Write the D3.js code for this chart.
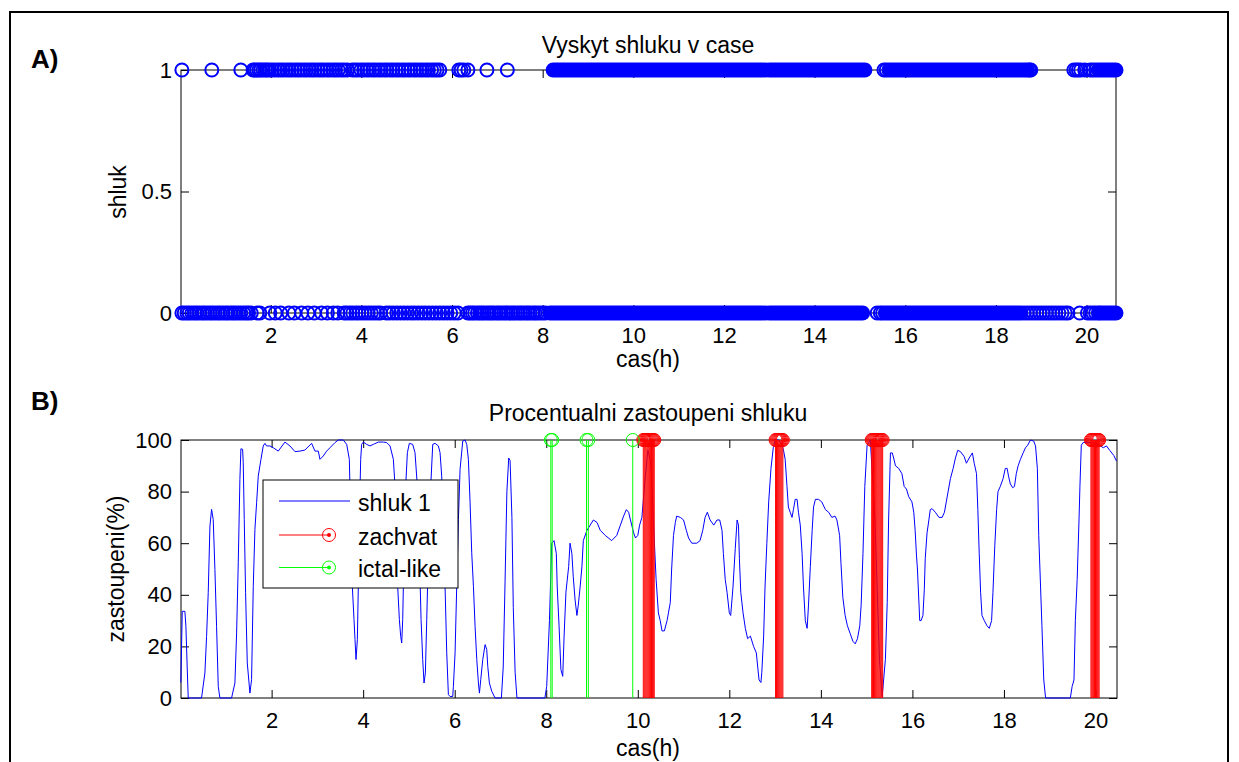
<!DOCTYPE html>
<html><head><meta charset="utf-8">
<script src="https://cdn.jsdelivr.net/npm/d3@7"></script>
<style>
body{margin:0;background:#fff}
svg{display:block}
text{font-family:"Liberation Sans",Arial,Helvetica,sans-serif;fill:#000}
</style>
</head><body>
<svg id="chart" width="1239" height="762"></svg>
<script>
// ---------- DATA ----------
const xTicks = [2, 4, 6, 8, 10, 12, 14, 16, 18, 20];
const yTicksA = [0, 0.5, 1];
const yTickLabelsA = ["0", "0.5", "1"];
const yTicksB = [0, 20, 40, 60, 80, 100];

// Panel A: isolated occurrences (hours) of cluster value 1 and 0
const shluk1Times = [0.04, 0.70, 1.34, 1.61, 1.65, 1.69, 1.74, 1.78, 1.83, 1.88, 1.92, 1.97, 2.03, 2.09, 2.16, 2.22, 2.28, 2.35, 2.41, 2.47, 2.54, 2.60, 2.66, 2.73, 2.79, 2.86, 2.92, 2.98, 3.05, 3.11, 3.17, 3.24, 3.30, 3.37, 3.43, 3.49, 3.56, 3.62, 3.69, 3.80, 3.86, 3.92, 3.99, 4.05, 4.12, 4.18, 4.25, 4.31, 4.38, 4.44, 4.51, 4.57, 4.64, 4.70, 4.77, 4.83, 4.90, 4.96, 5.03, 5.09, 5.16, 5.22, 5.29, 5.35, 5.42, 5.48, 5.55, 5.61, 5.67, 5.73, 6.15, 6.20, 6.26, 6.35, 6.77, 7.22, 12.92, 15.53, 15.58, 18.74, 18.77, 19.72, 19.77, 19.82, 19.87, 19.96, 20.08, 20.14, 20.20];
// Panel A: continuous dense runs of occurrences [start, end] (hours)
const shluk1Runs = [[8.23, 12.85], [13.00, 15.11], [15.64, 18.70], [20.26, 20.65]];
const shluk0Times = [0.04, 0.09, 0.15, 0.20, 0.26, 0.32, 0.37, 0.43, 0.49, 0.54, 0.60, 0.66, 0.71, 0.77, 0.83, 0.88, 0.94, 1.00, 1.05, 1.11, 1.17, 1.22, 1.28, 1.34, 1.40, 1.46, 1.51, 1.57, 1.70, 1.76,
  1.98, 2.10, 2.22, 2.40, 2.52, 2.68, 2.82, 2.96, 3.12, 3.25, 3.38, 3.48,
  3.62, 3.68, 3.75, 3.81, 3.88, 3.94, 4.01, 4.08, 4.15, 4.22, 4.29, 4.36, 4.42,
  4.55, 4.62, 4.70, 4.78, 4.86, 4.94, 5.02, 5.10, 5.17, 5.25, 5.33, 5.41, 5.49, 5.57, 5.65, 5.73, 5.81, 5.89, 5.97, 6.05, 6.13,
  6.35, 6.40, 6.45, 6.50, 6.56, 6.61, 6.66, 6.71, 6.77, 6.82, 6.87, 6.92, 6.98, 7.03, 7.08, 7.14, 7.19, 7.24, 7.30, 7.35, 7.40, 7.46, 7.51, 7.56, 7.62, 7.67, 7.72, 7.78, 7.83, 7.88, 7.94, 8.00, 8.06,
  12.92, 15.38, 15.45, 15.50, 18.62, 18.69, 18.76, 18.83, 18.90, 18.97, 19.04, 19.11, 19.18, 19.25, 19.32, 19.39, 19.46, 19.53, 19.59, 19.85, 20.02, 20.08, 20.14, 20.20, 20.26];
const shluk0Runs = [[8.16, 12.85], [13.00, 15.06], [15.56, 18.55], [20.30, 20.65]];

// Panel B: percentage of cluster 1 over time
const pctTime = [0.017, 0.047, 0.105, 0.127, 0.156, 0.178, 0.469, 0.542, 0.579, 0.615, 0.652, 0.688, 0.724, 0.761, 0.797, 0.834, 0.870, 1.125, 1.198, 1.235, 1.271, 1.307, 1.329, 1.366, 1.380, 1.402, 1.431, 1.468, 1.526, 1.562, 1.599, 1.635, 1.672, 1.708, 1.767, 1.817, 1.854, 1.890, 1.963, 2.036, 2.145, 2.291, 2.400, 2.510, 2.619, 2.728, 2.874, 2.947, 3.020, 3.056, 3.129, 3.202, 3.275, 3.384, 3.457, 3.566, 3.640, 3.698, 3.727, 3.763, 3.800, 3.822, 3.844, 3.873, 3.894, 3.916, 3.946, 3.967, 4.004, 4.077, 4.150, 4.222, 4.332, 4.441, 4.514, 4.587, 4.660, 4.696, 4.718, 4.754, 4.791, 4.820, 4.842, 4.864, 4.893, 4.929, 4.966, 5.009, 5.082, 5.133, 5.184, 5.228, 5.265, 5.301, 5.330, 5.359, 5.389, 5.425, 5.476, 5.520, 5.571, 5.643, 5.680, 5.716, 5.753, 5.789, 5.826, 5.862, 5.898, 5.957, 5.971, 6.008, 6.044, 6.081, 6.117, 6.176, 6.226, 6.263, 6.299, 6.336, 6.372, 6.409, 6.445, 6.482, 6.518, 6.540, 6.569, 6.613, 6.664, 6.700, 6.722, 6.758, 6.810, 6.882, 7.02, 7.06, 7.10, 7.14, 7.18, 7.21, 7.25, 7.28, 7.32, 7.36, 7.97, 8.01, 8.07, 8.12, 8.17, 8.22, 8.24, 8.28, 8.32, 8.36, 8.39, 8.43, 8.49, 8.52, 8.56, 8.59, 8.63, 8.67, 8.70, 8.74, 8.78, 8.81, 8.89, 8.96, 9.03, 9.11, 9.18, 9.29, 9.43, 9.54, 9.62, 9.69, 9.75, 9.80, 9.84, 9.91, 9.95, 10.00, 10.04, 10.09, 10.16, 10.22, 10.28, 10.31, 10.34, 10.40, 10.45, 10.49, 10.53, 10.58, 10.64, 10.67, 10.71, 10.74, 10.78, 10.82, 10.85, 10.93, 11.00, 11.06, 11.11, 11.18, 11.29, 11.36, 11.42, 11.47, 11.52, 11.58, 11.66, 11.73, 11.79, 11.84, 11.87, 11.91, 11.95, 12.00, 12.03, 12.08, 12.13, 12.17, 12.20, 12.22, 12.25, 12.30, 12.35, 12.40, 12.46, 12.53, 12.59, 12.62, 12.65, 12.69, 12.71, 12.75, 12.78, 12.82, 12.86, 12.91, 12.96, 13.00, 13.08, 13.15, 13.18, 13.22, 13.26, 13.29, 13.33, 13.37, 13.40, 13.44, 13.48, 13.51, 13.55, 13.59, 13.62, 13.66, 13.70, 13.73, 13.77, 13.81, 13.84, 13.88, 13.95, 14.02, 14.10, 14.17, 14.24, 14.31, 14.35, 14.41, 14.44, 14.48, 14.53, 14.58, 14.64, 14.70, 14.75, 14.80, 14.85, 14.88, 14.92, 14.96, 15.01, 15.08, 15.18, 15.28, 15.34, 15.41, 15.45, 15.48, 15.52, 15.56, 15.59, 15.63, 15.70, 15.77, 15.82, 15.87, 15.92, 15.99, 16.03, 16.06, 16.09, 16.11, 16.14, 16.16, 16.19, 16.23, 16.26, 16.28, 16.32, 16.36, 16.39, 16.43, 16.50, 16.58, 16.65, 16.70, 16.74, 16.79, 16.83, 16.89, 16.94, 16.99, 17.05, 17.13, 17.18, 17.24, 17.31, 17.35, 17.40, 17.43, 17.46, 17.49, 17.52, 17.57, 17.63, 17.68, 17.73, 17.76, 17.80, 17.84, 17.87, 17.92, 17.98, 18.03, 18.07, 18.10, 18.14, 18.19, 18.23, 18.27, 18.31, 18.36, 18.42, 18.47, 18.52, 18.58, 18.65, 18.69, 18.73, 18.76, 18.80, 18.83, 18.87, 18.91, 19.45, 19.49, 19.53, 19.56, 19.60, 19.64, 19.66, 19.69, 19.73, 19.85, 19.95, 20.11, 20.17, 20.24, 20.31, 20.40, 20.46];
const pctValue = [6, 33.6, 33.6, 27.8, 11.6, 0, 0, 9.7, 23.9, 40.8, 66.6, 73.1, 69.2, 49.8, 27.8, 4.5, 0, 0, 5.8, 25.2, 52.4, 84.7, 96.6, 96.4, 91.2, 69.2, 40.8, 13.6, 1.9, 7.1, 43.3, 65.3, 75.7, 86.0, 92.5, 97.7, 98.7, 97.7, 97.7, 97.0, 95.7, 99.2, 97.7, 95.5, 95.7, 96.1, 98.7, 95.7, 95.7, 92.5, 93.8, 95.7, 97.0, 99.0, 100, 100, 98.3, 92.5, 69.2, 43.3, 30.4, 22.6, 14.9, 22.6, 43.3, 69.2, 92.5, 98.3, 99.2, 98.3, 97.7, 98.3, 99.2, 99.2, 99.0, 97.7, 92.5, 82.1, 62.7, 43.3, 30.4, 23.9, 21.3, 30.4, 56.3, 82.1, 95.1, 98.7, 98.3, 95.1, 82.1, 56.3, 30.4, 14.9, 5.8, 9.7, 30.4, 56.3, 82.1, 98.3, 98.7, 97.7, 95.1, 86.0, 62.7, 43.3, 17.5, 1.3, 0.6, 0.6, 4.5, 17.5, 43.3, 69.2, 88.6, 99.6, 100, 98.3, 92.5, 75.7, 56.3, 43.3, 27.8, 14.9, 5.8, 1.9, 7.1, 14.9, 20.7, 18.8, 12.3, 5.8, 2.6, 0, 0, 12, 45, 80, 93, 92, 70, 35, 10, 0, 0, 4.5, 30, 60, 61, 56, 43, 28, 11, 8.4, 24, 41, 51, 60, 56, 47, 38, 32, 36, 43, 51, 61, 65, 67, 69, 68, 65, 63, 61, 63, 67, 70.5, 73, 72, 69, 64, 62, 63, 67, 70, 85, 96, 92, 83.4, 69, 46, 33, 30, 26, 26, 30, 33, 37, 50, 63, 68, 70.5, 70, 69, 65, 62, 60, 60, 61, 65, 70, 72, 69, 67, 69, 69, 65, 56, 46, 41, 33, 32, 43, 58, 69, 67, 54, 41, 33, 27, 23, 24, 20, 17.5, 12, 7, 6, 10, 24, 43, 60, 76, 89, 97, 100, 100, 98, 96.4, 92.5, 82, 74, 72, 70, 73, 77, 77, 72, 67, 56, 43, 30, 27, 36, 51, 65, 74, 77, 77, 76, 73, 72, 70, 70.5, 69, 63, 52, 39, 32, 28, 25, 22, 21, 23, 28, 36, 56, 82, 98, 100, 70, 15, 0.6, 15, 37, 69, 95, 95, 93, 90, 89, 87, 82, 81, 78, 76, 72, 65, 55, 50, 38, 30, 30, 32, 42, 54, 64, 69, 73, 73.4, 72, 70, 70, 72, 76, 81, 85, 89, 93, 96, 95.5, 93.6, 91, 93, 95, 91, 87, 73, 56, 41, 32, 30, 28, 27, 30, 41, 59, 73, 80, 82, 85, 89, 89, 86, 83, 81.5, 82, 87, 90, 92.5, 95, 97, 98, 100, 99.6, 97.7, 89, 63, 43, 28, 7, 0, 0, 4.5, 7, 30, 46, 69, 82, 98, 99, 99, 99, 97.7, 97, 97.7, 96, 94, 91.8];

// Panel B: stem events (hours)
const zachvatTimes = [10.12, 10.14, 10.16, 10.18, 10.20, 10.22, 10.24, 10.26, 10.28, 10.30, 10.32, 10.34, 10.36,
  13.01, 13.03, 13.05, 13.07, 13.09, 13.11, 13.13, 13.15, 13.17,
  15.11, 15.13, 15.15, 15.17, 15.19, 15.21, 15.23, 15.25, 15.27, 15.29, 15.31, 15.33, 15.35,
  19.90, 19.92, 19.94, 19.96, 19.98, 20.00, 20.02, 20.04, 20.06, 20.08];
const ictalTimes = [8.10, 8.13, 8.88, 8.92, 9.89];
const stemLevel = 100;

const legendLabels = ["shluk 1", "zachvat", "ictal-like"];

// ---------- DRAWING ----------
const svg = d3.select("#chart");
const BLUE = "#0000ff", RED = "#ff0000", GREEN = "#00ff00";
const R = 6.5, SW = 2;

svg.append("rect").attr("x", 10).attr("y", 12).attr("width", 1218).attr("height", 770)
  .attr("fill", "none").attr("stroke", "#000").attr("stroke-width", 2);

// panel labels
svg.append("text").attr("x", 31).attr("y", 68).attr("font-size", 26).attr("font-weight", "bold").text("A)");
svg.append("text").attr("x", 31).attr("y", 410).attr("font-size", 26).attr("font-weight", "bold").text("B)");

function frame(g, x, y, xt, yt, ytLabels) {
  const [x0, x1] = x.range(), [y0, y1] = y.range();
  const ax = g.append("g").attr("transform", `translate(0,${y0})`)
    .call(d3.axisBottom(x).tickValues(xt).tickFormat(d3.format("d")).tickSizeInner(-8).tickSizeOuter(0).tickPadding(14));
  const at = g.append("g").attr("transform", `translate(0,${y1})`)
    .call(d3.axisTop(x).tickValues(xt).tickFormat("").tickSizeInner(-8).tickSizeOuter(0));
  const ay = g.append("g").attr("transform", `translate(${x0},0)`)
    .call(d3.axisLeft(y).tickValues(yt).tickFormat((d, i) => ytLabels ? ytLabels[i] : d).tickSizeInner(-8).tickSizeOuter(0).tickPadding(9));
  const ar = g.append("g").attr("transform", `translate(${x1},0)`)
    .call(d3.axisRight(y).tickValues(yt).tickFormat("").tickSizeInner(-8).tickSizeOuter(0));
  [ax, at, ay, ar].forEach(a => {
    a.select(".domain").remove();
    a.selectAll("line").attr("stroke", "#000").attr("stroke-width", 1);
    a.selectAll("text").attr("font-size", 22).attr("font-family", '"Liberation Sans",Arial,sans-serif').attr("fill", "#000");
  });
  g.append("rect").attr("x", x0).attr("y", y1).attr("width", x1 - x0).attr("height", y0 - y1)
    .attr("fill", "none").attr("stroke", "#000").attr("stroke-width", 1);
}

// ---------- Panel A ----------
const xA = d3.scaleLinear().domain([0.02, 20.65]).range([181, 1116]);
const yA = d3.scaleLinear().domain([0, 1]).range([313, 70]);
const gA = svg.append("g");
frame(gA, xA, yA, xTicks, yTicksA, yTickLabelsA);

function drawRow(times, runs, val) {
  gA.append("g").selectAll("rect").data(runs).join("rect")
    .attr("x", d => xA(d[0]) - R - SW / 2)
    .attr("width", d => xA(d[1]) - xA(d[0]) + 2 * R + SW)
    .attr("y", yA(val) - R - SW / 2).attr("height", 2 * R + SW)
    .attr("rx", R + SW / 2).attr("fill", BLUE);
  gA.append("g").selectAll("circle").data(times).join("circle")
    .attr("cx", d => xA(d)).attr("cy", yA(val)).attr("r", R)
    .attr("fill", "none").attr("stroke", BLUE).attr("stroke-width", SW);
}
drawRow(shluk1Times, shluk1Runs, 1);
drawRow(shluk0Times, shluk0Runs, 0);

gA.append("text").attr("x", 648).attr("y", 53).attr("text-anchor", "middle").attr("font-size", 23).text("Vyskyt shluku v case");
gA.append("text").attr("x", 648).attr("y", 367).attr("text-anchor", "middle").attr("font-size", 23).text("cas(h)");
gA.append("text").attr("transform", "translate(126,192) rotate(-90)").attr("text-anchor", "middle").attr("font-size", 23).text("shluk");

// ---------- Panel B ----------
const xB = d3.scaleLinear().domain([0.02, 20.47]).range([181, 1117]);
const yB = d3.scaleLinear().domain([0, 100]).range([698, 440]);
const gB = svg.append("g");
frame(gB, xB, yB, xTicks, yTicksB, null);

const pts = pctTime.map((t, i) => [t, pctValue[i]]);
gB.append("path").datum(pts)
  .attr("d", d3.line().x(d => xB(d[0])).y(d => yB(d[1])))
  .attr("fill", "none").attr("stroke", BLUE).attr("stroke-width", 1);

function stems(times, color) {
  const g = gB.append("g");
  g.selectAll("line").data(times).join("line")
    .attr("x1", d => xB(d)).attr("x2", d => xB(d))
    .attr("y1", yB(0)).attr("y2", yB(stemLevel))
    .attr("stroke", color).attr("stroke-width", 1);
  g.selectAll("circle").data(times).join("circle")
    .attr("cx", d => xB(d)).attr("cy", yB(stemLevel)).attr("r", R)
    .attr("fill", "none").attr("stroke", color).attr("stroke-width", 1);
}
stems(zachvatTimes, RED);
stems(ictalTimes, GREEN);

gB.append("text").attr("x", 648).attr("y", 421).attr("text-anchor", "middle").attr("font-size", 23).text("Procentualni zastoupeni shluku");
gB.append("text").attr("x", 648).attr("y", 756).attr("text-anchor", "middle").attr("font-size", 23).text("cas(h)");
gB.append("text").attr("transform", "translate(124,569) rotate(-90)").attr("text-anchor", "middle").attr("font-size", 23).text("zastoupeni(%)");

// legend
const lg = gB.append("g");
lg.append("rect").attr("x", 263).attr("y", 480).attr("width", 195).attr("height", 108)
  .attr("fill", "#fff").attr("stroke", "#000").attr("stroke-width", 1);
const rowsY = [501, 535, 567.5];
const cols = [BLUE, RED, GREEN];
legendLabels.forEach((lab, i) => {
  lg.append("line").attr("x1", 279).attr("x2", i === 0 ? 350 : 329).attr("y1", rowsY[i]).attr("y2", rowsY[i])
    .attr("stroke", cols[i]).attr("stroke-width", 1);
  if (i > 0) {
    lg.append("circle").attr("cx", 329).attr("cy", rowsY[i]).attr("r", R).attr("fill", "none").attr("stroke", cols[i]).attr("stroke-width", 1);
    lg.append("circle").attr("cx", 329).attr("cy", rowsY[i]).attr("r", 2).attr("fill", cols[i]);
  }
  lg.append("text").attr("x", 358).attr("y", rowsY[i] + 9.5).attr("font-size", 23).text(lab);
});
</script>
</body></html>
